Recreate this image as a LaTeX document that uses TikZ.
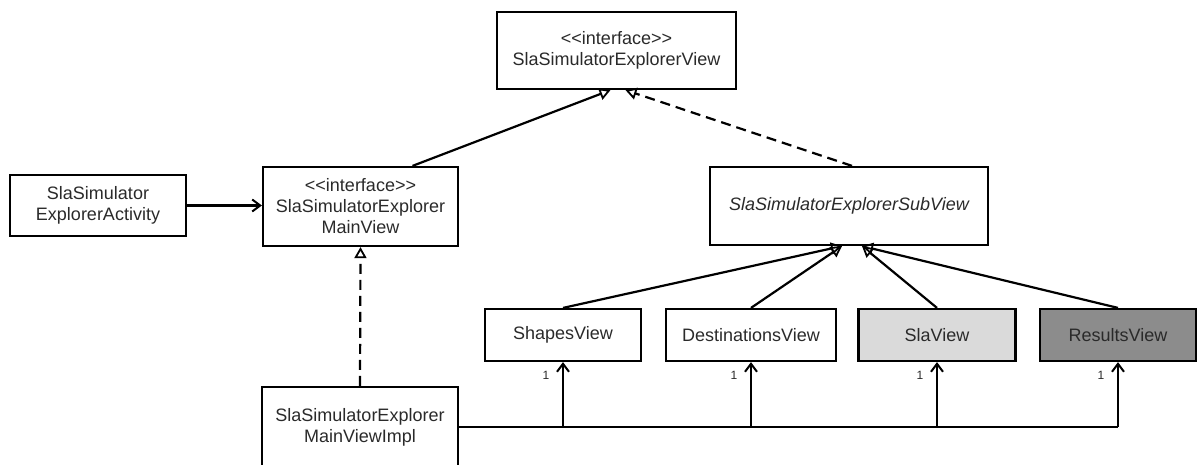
\documentclass[tikz,border=0pt]{standalone}
\usepackage{fontspec}
\setmainfont{Liberation Sans}
\usetikzlibrary{arrows.meta}
\definecolor{txtgray}{HTML}{2A2A2A}
\definecolor{slagray}{HTML}{DADADA}
\definecolor{resgray}{HTML}{8C8C8C}

\begin{document}
\begin{tikzpicture}[x=1pt,y=-1pt,line width=2.2pt,
  every node/.style={font=\fontsize{18}{21}\selectfont,text=txtgray,align=center},
  cls/.style={draw=black,rectangle,inner sep=0pt},
  inherit/.style={-{Triangle[open,length=11pt,width=12pt,line width=1.8pt]}},
  realize/.style={inherit,dash pattern=on 10pt off 6pt},
  assoc/.style={-{Straight Barb[length=8pt,width=12pt,line width=2pt]}},
  mult/.style={font=\fontsize{12}{14}\selectfont}]

\useasboundingbox (0,0) rectangle (1198,464);

%%%%%%%%%%%%%%%%%%%%%%%%%%%%%%%%%%%%%%

\node[cls,minimum width=239pt,minimum height=77pt] (view) at (616.5,50.5)
  {{<}{<}interface{>}{>}\\SlaSimulatorExplorerView};

\node[cls,minimum width=176pt,minimum height=61pt] (activity) at (98,205.5)
  {SlaSimulator\\ExplorerActivity};
\node[cls,minimum width=195pt,minimum height=79pt] (mainview) at (360.5,206.5)
  {{<}{<}interface{>}{>}\\SlaSimulatorExplorer\\MainView};
\node[cls,minimum width=278pt,minimum height=78pt] (subview) at (849,206)
  {\itshape SlaSimulatorExplorerSubView};

%%%%%%%%%%%%%%%%%%%%%%%%%%%%%%%%%%%%%%

\node[cls,minimum width=156pt,minimum height=52pt] (shapes) at (563,335) {ShapesView};
\node[cls,minimum width=170pt,minimum height=52pt] (dest) at (751,335) {DestinationsView};
\node[cls,fill=slagray,minimum width=157pt,minimum height=52pt] (sla) at (937,335) {SlaView};
\node[cls,fill=resgray,minimum width=156pt,minimum height=52pt] (results) at (1118,335) {ResultsView};

\node[cls,minimum width=196pt,minimum height=80pt] (impl) at (360,427)
  {SlaSimulatorExplorer\\MainViewImpl};

%%%%%%%%%%%%%%%%%%%%%%%%%%%%%%%%%%%%%%

\draw[inherit] ([xshift=52pt]mainview.north) -- ([xshift=-6pt]view.south);
\draw[realize] ([xshift=3pt]subview.north) -- ([xshift=9pt]view.south);
\draw[assoc] (activity.east) -- (activity.east -| mainview.west);
\draw[realize] (impl.north) -- (mainview.south);

\draw[inherit] (shapes.north) -- ([xshift=-7pt]subview.south);
\draw[inherit] (dest.north) -- ([xshift=-7pt]subview.south);
\draw[inherit] (sla.north) -- ([xshift=13pt]subview.south);
\draw[inherit] (results.north) -- ([xshift=13pt]subview.south);

\draw (impl.east) -- (results.south |- impl.east);
\foreach \v in {shapes,dest,sla,results}{
  \draw[assoc] (\v.south |- impl.east) -- (\v.south);
  \node[mult] at ([xshift=-17pt,yshift=-13pt]\v.south) {1};
}

\end{tikzpicture}
\end{document}
